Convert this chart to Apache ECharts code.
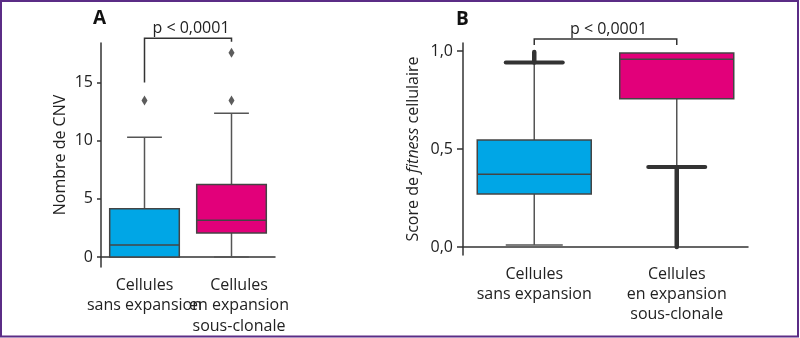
<!DOCTYPE html>
<html><head><meta charset="utf-8">
<script src="https://cdn.jsdelivr.net/npm/echarts@6/dist/echarts.min.js"></script>
<style>html,body{margin:0;padding:0;background:#fff}#c{width:800px;height:338px}</style>
</head><body><div id="c"></div>
<script>
// ---- data ----
const categories = ['Cellules\nsans expansion', 'Cellules\nen expansion\nsous-clonale'];
// [category index, lower whisker, Q1, median, Q3, upper whisker]
const boxStatsA = [[0, 0, 0, 1.03, 4.14, 10.3], [1, 0, 2.07, 3.16, 6.23, 12.35]];
const outliersA = [[0, 13.45], [1, 13.45], [1, 17.56]];
const boxStatsB = [[0, 0.01, 0.27, 0.371, 0.546, 0.942], [1, 0.408, 0.757, 0.958, 0.99, 0.99]];
// dense outlier runs: [category index, low, high]
const outlierRangesB = [[0, 0.942, 0.995], [1, 0.0, 0.405]];
const tickValuesA = [0, 5, 10, 15];
const tickValuesB = [0, 0.5, 1.0];
const tickLabelsB = ['0,0', '0,5', '1,0'];
// bracket: [left cat, right cat, top value, left leg end, right leg end]
const bracketA = [[0, 1, 18.8, 15.0, 18.5]];
const bracketB = [[0, 1, 1.061, 1.031, 1.031]];
const pText = 'p < 0,0001';
const boxColors = ['#00A6E6', '#E2007A'];

const FONT = '"Open Sans", "Noto Sans", sans-serif';
const TXT = '#222';
const AX = '#333';

function boxRender(rangesForThick) {
  return function (params, api) {
    const cat = api.value(0);
    const lo = api.value(1), q1 = api.value(2), med = api.value(3), q3 = api.value(4), hi = api.value(5);
    const band = api.size([1, 0])[0];
    const bw = band * 0.8, cw = band * 0.4;
    const pLo = api.coord([cat, lo]), pQ1 = api.coord([cat, q1]), pMed = api.coord([cat, med]);
    const pQ3 = api.coord([cat, q3]), pHi = api.coord([cat, hi]);
    const x = pQ1[0];
    const thick = v => rangesForThick.some(r => r[0] === cat && (Math.abs(r[1] - v) < 0.01 || Math.abs(r[2] - v) < 0.01));
    const children = [];
    const wStyle = {stroke: '#555', lineWidth: 1.5};
    if (hi > q3) {
      children.push({type: 'line', shape: {x1: x, y1: pQ3[1], x2: x, y2: pHi[1]}, style: wStyle});
      children.push({type: 'line', shape: {x1: x - cw / 2, y1: pHi[1], x2: x + cw / 2, y2: pHi[1]},
        style: thick(hi) ? {stroke: '#333', lineWidth: 4, lineCap: 'round'} : wStyle});
    }
    if (lo < q1) {
      children.push({type: 'line', shape: {x1: x, y1: pQ1[1], x2: x, y2: pLo[1]}, style: wStyle});
      children.push({type: 'line', shape: {x1: x - cw / 2, y1: pLo[1], x2: x + cw / 2, y2: pLo[1]},
        style: thick(lo) ? {stroke: '#333', lineWidth: 4, lineCap: 'round'} : wStyle});
    }
    children.push({type: 'rect', shape: {x: x - bw / 2, y: pQ3[1], width: bw, height: pQ1[1] - pQ3[1]},
      style: {fill: boxColors[cat], stroke: '#444', lineWidth: 1.5}});
    children.push({type: 'line', shape: {x1: x - bw / 2, y1: pMed[1], x2: x + bw / 2, y2: pMed[1]},
      style: {stroke: '#444', lineWidth: 1.5}});
    return {type: 'group', children};
  };
}

function rangeRender(params, api) {
  const cat = api.value(0);
  const a = api.coord([cat, api.value(1)]), b = api.coord([cat, api.value(2)]);
  return {type: 'line', shape: {x1: a[0], y1: a[1], x2: b[0], y2: b[1]},
    style: {stroke: '#333', lineWidth: 4.5, lineCap: 'round'}};
}

function bracketRender(params, api) {
  const c0 = api.value(0), c1 = api.value(1);
  const top = api.value(2);
  const pL = api.coord([c0, top]), pR = api.coord([c1, top]);
  const lEnd = api.coord([c0, api.value(3)]), rEnd = api.coord([c1, api.value(4)]);
  return {type: 'group', children: [
    {type: 'polyline', shape: {points: [[pL[0], lEnd[1]], [pL[0], pL[1]], [pR[0], pR[1]], [pR[0], rEnd[1]]]},
      style: {stroke: '#333', lineWidth: 1.5, fill: null}},
    {type: 'text', style: {text: pText, x: (pL[0] + pR[0]) / 2 + 3, y: pL[1] - 10, align: 'center',
      verticalAlign: 'middle', fontSize: 16, fontFamily: FONT, fill: TXT}}
  ]};
}

const chart = echarts.init(document.getElementById('c'), null, {renderer: 'canvas'});
const axisCommon = {
  axisLine: {show: true, lineStyle: {color: AX, width: 1.5}},
  splitLine: {show: false}
};
chart.setOption({
  animation: false,
  backgroundColor: '#fff',
  grid: [
    {left: 101, top: 43, width: 174, height: 224, outerBoundsMode: 'none'},
    {left: 463, top: 43, width: 285, height: 212, outerBoundsMode: 'none'}
  ],
  xAxis: [
    Object.assign({}, axisCommon, {type: 'category', gridIndex: 0, data: categories,
      axisTick: {show: false},
      axisLabel: {margin: 8, fontSize: 16, fontFamily: FONT, color: TXT, lineHeight: 20.5, interval: 0,
        formatter: (v, i) => i === 1 ? v.split('\n').map(s => '{r|' + s + '}').join('\n') : v,
        rich: {r: {fontSize: 16, fontFamily: FONT, color: TXT, lineHeight: 20.5, padding: [0, 0, 0, 15]}}}}),
    Object.assign({}, axisCommon, {type: 'category', gridIndex: 1, data: categories,
      axisTick: {show: false},
      axisLabel: {margin: 9, fontSize: 16, fontFamily: FONT, color: TXT, lineHeight: 20, interval: 0}})
  ],
  yAxis: [
    Object.assign({}, axisCommon, {type: 'value', gridIndex: 0, min: -0.86, max: 18.4,
      axisTick: {show: true, length: 4, lineStyle: {color: AX, width: 1.5}, customValues: tickValuesA},
      axisLabel: {customValues: tickValuesA, margin: 8, fontSize: 16, fontFamily: FONT, color: TXT},
      name: 'Nombre de CNV', nameLocation: 'middle', nameRotate: 90, nameGap: 33,
      nameTextStyle: {fontSize: 16, fontFamily: FONT, color: TXT}}),
    Object.assign({}, axisCommon, {type: 'value', gridIndex: 1, min: -0.041, max: 1.041,
      axisTick: {show: true, length: 6, lineStyle: {color: AX, width: 1.5}, customValues: tickValuesB},
      axisLabel: {customValues: tickValuesB, margin: 10, fontSize: 16, fontFamily: FONT, color: TXT,
        formatter: v => tickLabelsB[tickValuesB.findIndex(t => Math.abs(t - v) < 1e-9)]},
      name: '{n|Score de }{i|fitness}{n| cellulaire}', nameLocation: 'middle', nameRotate: 90, nameGap: 42,
      nameTextStyle: {fontSize: 16, fontFamily: FONT, color: TXT,
        rich: {n: {fontSize: 16, fontFamily: FONT, color: TXT}, i: {fontSize: 16, fontFamily: FONT, color: TXT, fontStyle: 'italic'}}}})
  ],
  series: [
    {type: 'custom', xAxisIndex: 0, yAxisIndex: 0, data: boxStatsA, renderItem: boxRender([]), clip: false, z: 2},
    {type: 'scatter', xAxisIndex: 0, yAxisIndex: 0, data: outliersA, symbol: 'diamond', symbolSize: [6, 10],
      itemStyle: {color: '#333'}, z: 3},
    {type: 'custom', xAxisIndex: 0, yAxisIndex: 0, data: bracketA, renderItem: bracketRender, clip: false, z: 3},
    {type: 'custom', xAxisIndex: 1, yAxisIndex: 1, data: boxStatsB, renderItem: boxRender(outlierRangesB), clip: false, z: 2},
    {type: 'custom', xAxisIndex: 1, yAxisIndex: 1, data: outlierRangesB, renderItem: rangeRender, clip: false, z: 3},
    {type: 'custom', xAxisIndex: 1, yAxisIndex: 1, data: bracketB, renderItem: bracketRender, clip: false, z: 3}
  ],
  graphic: [
    {type: 'rect', shape: {x: 1, y: 1, width: 797, height: 335.5}, style: {fill: null, stroke: '#5B2C86', lineWidth: 2}, z: 100},
    {type: 'text', left: 93, top: 9, style: {text: 'A', fontSize: 19, fontWeight: 'bold', fontFamily: FONT, fill: '#111'}},
    {type: 'text', left: 456, top: 10, style: {text: 'B', fontSize: 19, fontWeight: 'bold', fontFamily: FONT, fill: '#111'}}
  ]
});
</script></body></html>
